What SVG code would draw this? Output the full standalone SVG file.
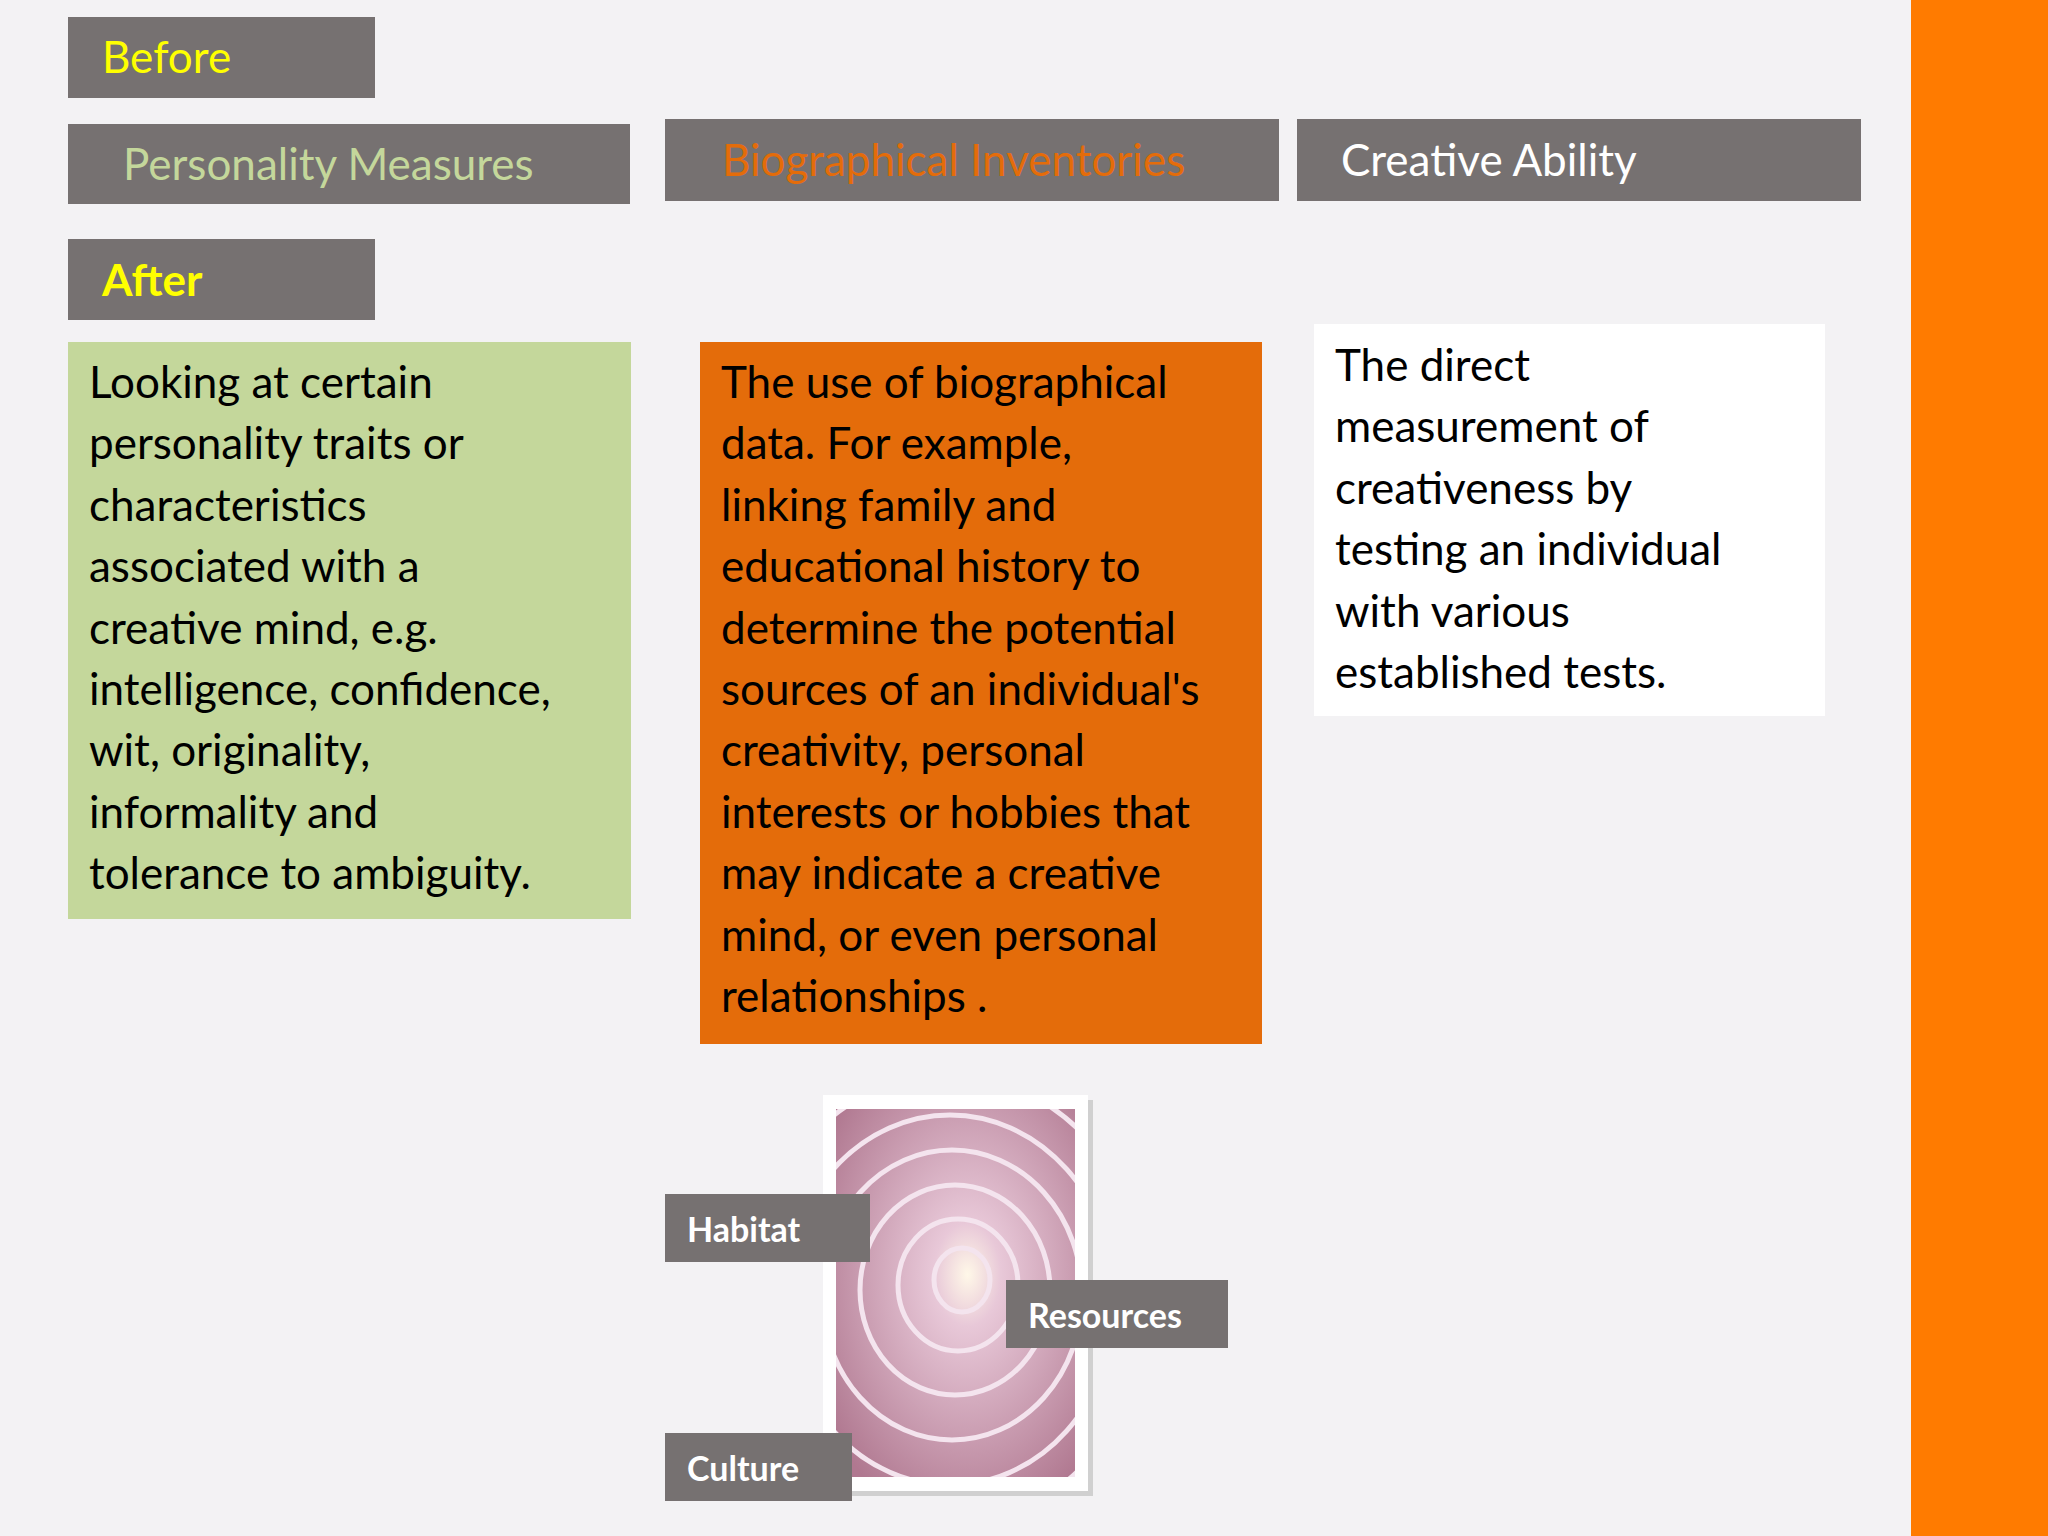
<svg xmlns="http://www.w3.org/2000/svg" width="2048" height="1536" viewBox="0 0 2048 1536">
<style>
text{font-family:Lato,"Open Sans",sans-serif}
.hb{fill:#767171}
.h{font-size:44px}
.b{font-size:44px;fill:#000}
.l{font-size:34px;font-weight:bold;fill:#fff}
</style>
<defs>
<radialGradient id="on" cx="0.55" cy="0.45" r="0.7">
<stop offset="0" stop-color="#fff8e8"/><stop offset="0.2" stop-color="#e8c8d8"/><stop offset="1" stop-color="#b07890"/>
</radialGradient>
</defs>
<rect width="2048" height="1536" fill="#f3f2f4"/>
<rect x="1911" y="0" width="137" height="1536" fill="#ff7b00"/>
<g id="before"><rect class="hb" x="68" y="17" width="307" height="81"/><text x="102" y="73" class="h" fill="#ffff00">Before</text></g>
<g id="personality"><rect class="hb" x="68" y="124" width="562" height="80"/><text x="123" y="180" class="h" fill="#c4d79b">Personality Measures</text></g>
<g id="biographical"><rect class="hb" x="665" y="119" width="614" height="82"/><text x="722" y="176" class="h" fill="#e46c0a">Biographical Inventories</text></g>
<g id="creative"><rect class="hb" x="1297" y="119" width="564" height="82"/><text x="1341" y="176" class="h" fill="#fff">Creative Ability</text></g>
<g id="after"><rect class="hb" x="68" y="239" width="307" height="81"/><text x="102" y="296" class="h" font-weight="bold" fill="#ffff00">After</text></g>
<g id="green"><rect x="68" y="342" width="563" height="577" fill="#c4d79b"/>
<text class="b" x="89" y="398">Looking at certain<tspan x="89" dy="61.4">personality traits or</tspan><tspan x="89" dy="61.4">characteristics</tspan><tspan x="89" dy="61.4">associated with a</tspan><tspan x="89" dy="61.4">creative mind, e.g.</tspan><tspan x="89" dy="61.4">intelligence, confidence,</tspan><tspan x="89" dy="61.4">wit, originality,</tspan><tspan x="89" dy="61.4">informality and</tspan><tspan x="89" dy="61.4">tolerance to ambiguity.</tspan></text></g>
<g id="orange"><rect x="700" y="342" width="562" height="702" fill="#e46c0a"/>
<text class="b" x="721" y="398">The use of biographical<tspan x="721" dy="61.4">data. For example,</tspan><tspan x="721" dy="61.4">linking family and</tspan><tspan x="721" dy="61.4">educational history to</tspan><tspan x="721" dy="61.4">determine the potential</tspan><tspan x="721" dy="61.4">sources of an individual's</tspan><tspan x="721" dy="61.4">creativity, personal</tspan><tspan x="721" dy="61.4">interests or hobbies that</tspan><tspan x="721" dy="61.4">may indicate a creative</tspan><tspan x="721" dy="61.4">mind, or even personal</tspan><tspan x="721" dy="61.4">relationships .</tspan></text></g>
<g id="white"><rect x="1314" y="324" width="511" height="392" fill="#fff"/>
<text class="b" x="1335" y="381">The direct<tspan x="1335" dy="61.4">measurement of</tspan><tspan x="1335" dy="61.4">creativeness by</tspan><tspan x="1335" dy="61.4">testing an individual</tspan><tspan x="1335" dy="61.4">with various</tspan><tspan x="1335" dy="61.4">established tests.</tspan></text></g>
<g id="onion">
<rect x="828" y="1100" width="265" height="396" fill="#d0d0d0"/>
<rect x="823" y="1095" width="265" height="396" fill="#fff"/>
<clipPath id="c"><rect x="836" y="1109" width="239" height="368"/></clipPath>
<rect x="836" y="1109" width="239" height="368" fill="url(#on)"/>
<g clip-path="url(#c)" fill="none" stroke="#f4e4ee" stroke-width="5">
<ellipse cx="962" cy="1280" rx="28" ry="32"/><ellipse cx="958" cy="1285" rx="60" ry="66"/><ellipse cx="955" cy="1290" rx="95" ry="105"/><ellipse cx="952" cy="1295" rx="130" ry="145"/><ellipse cx="950" cy="1300" rx="165" ry="185"/><ellipse cx="948" cy="1300" rx="200" ry="225"/>
</g></g>
<g id="habitat"><rect class="hb" x="665" y="1194" width="205" height="68"/><text class="l" x="687" y="1242">Habitat</text></g>
<g id="resources"><rect class="hb" x="1006" y="1280" width="222" height="68"/><text class="l" x="1028" y="1328">Resources</text></g>
<g id="culture"><rect class="hb" x="665" y="1433" width="187" height="68"/><text class="l" x="687" y="1481">Culture</text></g>
</svg>
